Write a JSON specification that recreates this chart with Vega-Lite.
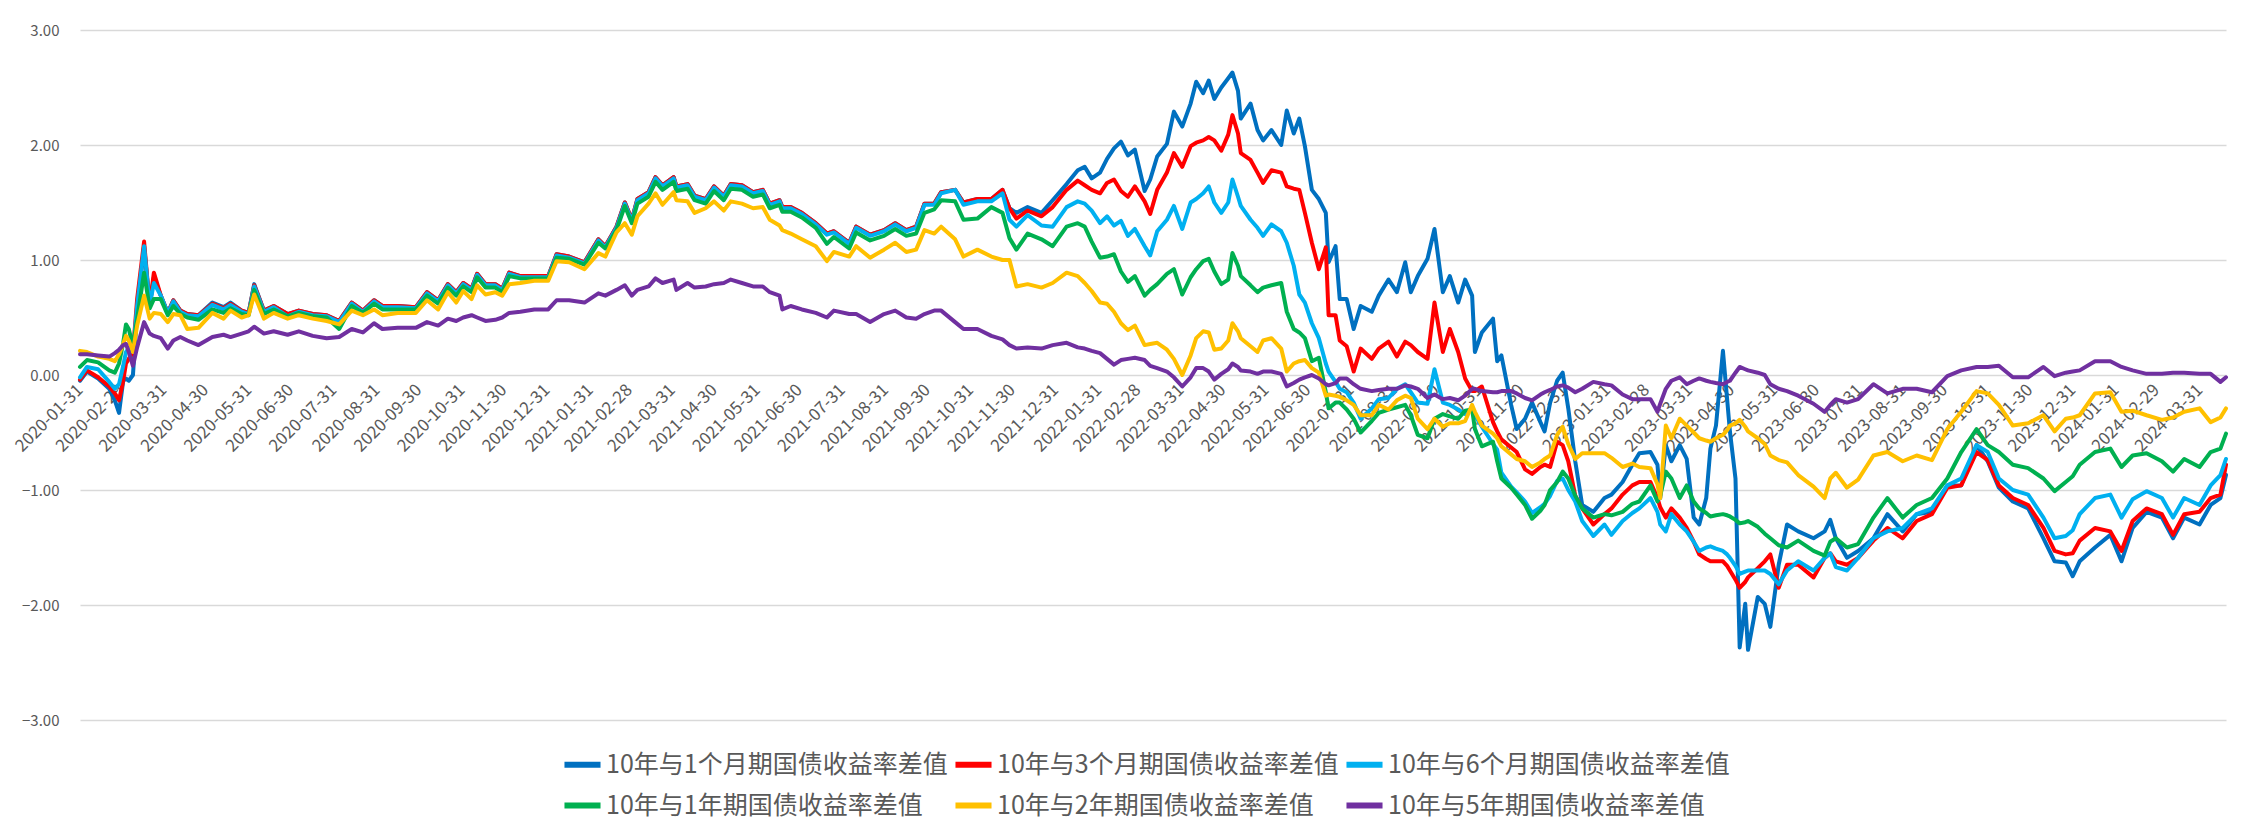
{
  "$schema": "https://vega.github.io/schema/vega-lite/v6.json",
  "width": 2146,
  "height": 690,
  "autosize": {"type": "none"},
  "padding": {"left": 80, "top": 30, "right": 26, "bottom": 105},
  "background": "white",
  "config": {"view": {"stroke": null}, "font": "Noto Sans CJK SC"},
  "datasets": {
    "names": [
      {"k": "a", "name": "10年与1个月期国债收益率差值"},
      {"k": "b", "name": "10年与3个月期国债收益率差值"},
      {"k": "c", "name": "10年与6个月期国债收益率差值"},
      {"k": "e", "name": "10年与1年期国债收益率差值"},
      {"k": "f", "name": "10年与2年期国债收益率差值"},
      {"k": "g", "name": "10年与5年期国债收益率差值"}
    ]
  },
  "data": {"values": [
    {"d":"2020-01-31","a":-0.05,"b":-0.04,"c":-0.02,"e":0.07,"f":0.21,"g":0.18},
    {"d":"2020-02-05","a":0.03,"b":0.04,"c":0.07,"e":0.13,"f":0.20,"g":0.18},
    {"d":"2020-02-13","a":-0.03,"b":-0.02,"c":0.05,"e":0.11,"f":0.16,"g":0.17},
    {"d":"2020-02-21","a":-0.12,"b":-0.10,"c":-0.06,"e":0.04,"f":0.14,"g":0.16},
    {"d":"2020-02-25","a":-0.22,"b":-0.16,"c":-0.12,"e":0.02,"f":0.12,"g":0.19},
    {"d":"2020-02-28","a":-0.33,"b":-0.22,"c":-0.08,"e":0.10,"f":0.18,"g":0.22},
    {"d":"2020-03-02","a":-0.05,"b":-0.05,"c":0.08,"e":0.28,"f":0.27,"g":0.26},
    {"d":"2020-03-04","a":-0.03,"b":0.10,"c":0.20,"e":0.44,"f":0.34,"g":0.27},
    {"d":"2020-03-06","a":-0.05,"b":0.14,"c":0.23,"e":0.40,"f":0.30,"g":0.20},
    {"d":"2020-03-09","a":0.00,"b":0.20,"c":0.20,"e":0.25,"f":0.20,"g":0.08},
    {"d":"2020-03-12","a":0.55,"b":0.66,"c":0.60,"e":0.49,"f":0.43,"g":0.24},
    {"d":"2020-03-17","a":1.12,"b":1.16,"c":1.12,"e":0.89,"f":0.69,"g":0.46},
    {"d":"2020-03-21","a":0.60,"b":0.60,"c":0.60,"e":0.58,"f":0.49,"g":0.36},
    {"d":"2020-03-24","a":0.85,"b":0.89,"c":0.80,"e":0.66,"f":0.54,"g":0.34},
    {"d":"2020-03-29","a":0.69,"b":0.69,"c":0.69,"e":0.66,"f":0.53,"g":0.32},
    {"d":"2020-04-03","a":0.54,"b":0.54,"c":0.54,"e":0.52,"f":0.46,"g":0.23},
    {"d":"2020-04-07","a":0.65,"b":0.65,"c":0.64,"e":0.60,"f":0.53,"g":0.30},
    {"d":"2020-04-12","a":0.56,"b":0.56,"c":0.55,"e":0.53,"f":0.52,"g":0.33},
    {"d":"2020-04-17","a":0.53,"b":0.53,"c":0.52,"e":0.50,"f":0.40,"g":0.30},
    {"d":"2020-04-25","a":0.52,"b":0.52,"c":0.51,"e":0.48,"f":0.41,"g":0.26},
    {"d":"2020-05-05","a":0.63,"b":0.62,"c":0.61,"e":0.57,"f":0.54,"g":0.33},
    {"d":"2020-05-13","a":0.59,"b":0.58,"c":0.57,"e":0.54,"f":0.49,"g":0.35},
    {"d":"2020-05-18","a":0.63,"b":0.62,"c":0.61,"e":0.58,"f":0.56,"g":0.33},
    {"d":"2020-05-26","a":0.56,"b":0.56,"c":0.55,"e":0.53,"f":0.50,"g":0.36},
    {"d":"2020-05-31","a":0.54,"b":0.54,"c":0.53,"e":0.52,"f":0.52,"g":0.38},
    {"d":"2020-06-04","a":0.79,"b":0.78,"c":0.77,"e":0.74,"f":0.70,"g":0.42},
    {"d":"2020-06-11","a":0.56,"b":0.56,"c":0.55,"e":0.53,"f":0.49,"g":0.36},
    {"d":"2020-06-18","a":0.60,"b":0.60,"c":0.59,"e":0.57,"f":0.54,"g":0.38},
    {"d":"2020-06-28","a":0.53,"b":0.53,"c":0.51,"e":0.51,"f":0.49,"g":0.35},
    {"d":"2020-07-06","a":0.56,"b":0.56,"c":0.55,"e":0.54,"f":0.52,"g":0.38},
    {"d":"2020-07-16","a":0.53,"b":0.53,"c":0.52,"e":0.51,"f":0.49,"g":0.34},
    {"d":"2020-07-26","a":0.52,"b":0.52,"c":0.51,"e":0.50,"f":0.47,"g":0.32},
    {"d":"2020-08-04","a":0.47,"b":0.47,"c":0.46,"e":0.40,"f":0.44,"g":0.33},
    {"d":"2020-08-13","a":0.63,"b":0.63,"c":0.62,"e":0.60,"f":0.56,"g":0.40},
    {"d":"2020-08-21","a":0.56,"b":0.56,"c":0.55,"e":0.54,"f":0.52,"g":0.37},
    {"d":"2020-08-29","a":0.65,"b":0.65,"c":0.64,"e":0.62,"f":0.57,"g":0.45},
    {"d":"2020-09-04","a":0.60,"b":0.60,"c":0.59,"e":0.57,"f":0.52,"g":0.40},
    {"d":"2020-09-15","a":0.60,"b":0.60,"c":0.59,"e":0.57,"f":0.54,"g":0.41},
    {"d":"2020-09-28","a":0.59,"b":0.59,"c":0.58,"e":0.57,"f":0.54,"g":0.41},
    {"d":"2020-10-06","a":0.72,"b":0.72,"c":0.71,"e":0.69,"f":0.65,"g":0.46},
    {"d":"2020-10-14","a":0.65,"b":0.65,"c":0.64,"e":0.62,"f":0.57,"g":0.43},
    {"d":"2020-10-21","a":0.79,"b":0.79,"c":0.78,"e":0.76,"f":0.72,"g":0.49},
    {"d":"2020-10-27","a":0.72,"b":0.72,"c":0.71,"e":0.69,"f":0.63,"g":0.47},
    {"d":"2020-11-01","a":0.80,"b":0.80,"c":0.79,"e":0.77,"f":0.73,"g":0.50},
    {"d":"2020-11-07","a":0.75,"b":0.75,"c":0.74,"e":0.72,"f":0.66,"g":0.52},
    {"d":"2020-11-11","a":0.88,"b":0.88,"c":0.87,"e":0.85,"f":0.78,"g":0.50},
    {"d":"2020-11-17","a":0.79,"b":0.79,"c":0.78,"e":0.76,"f":0.70,"g":0.47},
    {"d":"2020-11-24","a":0.79,"b":0.79,"c":0.78,"e":0.76,"f":0.72,"g":0.48},
    {"d":"2020-11-29","a":0.75,"b":0.75,"c":0.74,"e":0.72,"f":0.69,"g":0.50},
    {"d":"2020-12-04","a":0.89,"b":0.89,"c":0.88,"e":0.86,"f":0.79,"g":0.54},
    {"d":"2020-12-12","a":0.86,"b":0.86,"c":0.85,"e":0.84,"f":0.80,"g":0.55},
    {"d":"2020-12-22","a":0.86,"b":0.86,"c":0.85,"e":0.84,"f":0.82,"g":0.57},
    {"d":"2021-01-01","a":0.86,"b":0.86,"c":0.85,"e":0.84,"f":0.82,"g":0.57},
    {"d":"2021-01-07","a":1.05,"b":1.05,"c":1.04,"e":1.02,"f":0.99,"g":0.65},
    {"d":"2021-01-16","a":1.03,"b":1.03,"c":1.02,"e":1.01,"f":0.98,"g":0.65},
    {"d":"2021-01-27","a":0.98,"b":0.98,"c":0.97,"e":0.96,"f":0.92,"g":0.63},
    {"d":"2021-02-06","a":1.18,"b":1.18,"c":1.17,"e":1.15,"f":1.06,"g":0.71},
    {"d":"2021-02-11","a":1.12,"b":1.12,"c":1.11,"e":1.10,"f":1.03,"g":0.69},
    {"d":"2021-02-19","a":1.29,"b":1.29,"c":1.28,"e":1.26,"f":1.24,"g":0.74},
    {"d":"2021-02-25","a":1.50,"b":1.50,"c":1.49,"e":1.47,"f":1.32,"g":0.78},
    {"d":"2021-03-02","a":1.35,"b":1.35,"c":1.34,"e":1.32,"f":1.22,"g":0.69},
    {"d":"2021-03-06","a":1.53,"b":1.53,"c":1.52,"e":1.49,"f":1.38,"g":0.74},
    {"d":"2021-03-14","a":1.59,"b":1.59,"c":1.58,"e":1.55,"f":1.49,"g":0.77},
    {"d":"2021-03-19","a":1.72,"b":1.72,"c":1.71,"e":1.68,"f":1.58,"g":0.84},
    {"d":"2021-03-24","a":1.65,"b":1.65,"c":1.64,"e":1.61,"f":1.48,"g":0.80},
    {"d":"2021-04-01","a":1.72,"b":1.72,"c":1.71,"e":1.68,"f":1.59,"g":0.83},
    {"d":"2021-04-03","a":1.64,"b":1.64,"c":1.63,"e":1.60,"f":1.52,"g":0.74},
    {"d":"2021-04-11","a":1.66,"b":1.66,"c":1.65,"e":1.62,"f":1.51,"g":0.80},
    {"d":"2021-04-16","a":1.56,"b":1.56,"c":1.55,"e":1.52,"f":1.41,"g":0.76},
    {"d":"2021-04-24","a":1.53,"b":1.53,"c":1.52,"e":1.49,"f":1.45,"g":0.77},
    {"d":"2021-04-30","a":1.64,"b":1.64,"c":1.63,"e":1.60,"f":1.51,"g":0.79},
    {"d":"2021-05-07","a":1.56,"b":1.56,"c":1.55,"e":1.52,"f":1.43,"g":0.80},
    {"d":"2021-05-12","a":1.66,"b":1.66,"c":1.65,"e":1.62,"f":1.51,"g":0.83},
    {"d":"2021-05-20","a":1.65,"b":1.65,"c":1.64,"e":1.61,"f":1.49,"g":0.80},
    {"d":"2021-05-28","a":1.59,"b":1.59,"c":1.58,"e":1.55,"f":1.45,"g":0.77},
    {"d":"2021-06-04","a":1.61,"b":1.61,"c":1.60,"e":1.57,"f":1.46,"g":0.77},
    {"d":"2021-06-09","a":1.49,"b":1.49,"c":1.48,"e":1.45,"f":1.35,"g":0.72},
    {"d":"2021-06-16","a":1.52,"b":1.52,"c":1.51,"e":1.48,"f":1.30,"g":0.69},
    {"d":"2021-06-18","a":1.46,"b":1.46,"c":1.45,"e":1.42,"f":1.26,"g":0.57},
    {"d":"2021-06-24","a":1.46,"b":1.46,"c":1.45,"e":1.42,"f":1.23,"g":0.60},
    {"d":"2021-07-02","a":1.41,"b":1.41,"c":1.40,"e":1.37,"f":1.18,"g":0.57},
    {"d":"2021-07-12","a":1.32,"b":1.32,"c":1.31,"e":1.28,"f":1.12,"g":0.54},
    {"d":"2021-07-20","a":1.23,"b":1.23,"c":1.22,"e":1.14,"f":0.99,"g":0.50},
    {"d":"2021-07-25","a":1.25,"b":1.25,"c":1.24,"e":1.20,"f":1.07,"g":0.56},
    {"d":"2021-08-05","a":1.15,"b":1.15,"c":1.14,"e":1.10,"f":1.03,"g":0.53},
    {"d":"2021-08-10","a":1.29,"b":1.29,"c":1.28,"e":1.24,"f":1.12,"g":0.53},
    {"d":"2021-08-20","a":1.22,"b":1.22,"c":1.21,"e":1.17,"f":1.02,"g":0.46},
    {"d":"2021-08-30","a":1.26,"b":1.26,"c":1.25,"e":1.21,"f":1.09,"g":0.53},
    {"d":"2021-09-07","a":1.32,"b":1.32,"c":1.31,"e":1.27,"f":1.15,"g":0.56},
    {"d":"2021-09-15","a":1.26,"b":1.26,"c":1.25,"e":1.21,"f":1.07,"g":0.50},
    {"d":"2021-09-22","a":1.29,"b":1.29,"c":1.28,"e":1.23,"f":1.09,"g":0.49},
    {"d":"2021-09-28","a":1.49,"b":1.49,"c":1.48,"e":1.41,"f":1.26,"g":0.53},
    {"d":"2021-10-05","a":1.49,"b":1.49,"c":1.48,"e":1.44,"f":1.23,"g":0.56},
    {"d":"2021-10-10","a":1.59,"b":1.59,"c":1.58,"e":1.52,"f":1.29,"g":0.56},
    {"d":"2021-10-20","a":1.61,"b":1.61,"c":1.61,"e":1.51,"f":1.18,"g":0.46},
    {"d":"2021-10-26","a":1.50,"b":1.50,"c":1.48,"e":1.35,"f":1.03,"g":0.40},
    {"d":"2021-11-05","a":1.53,"b":1.53,"c":1.51,"e":1.36,"f":1.09,"g":0.40},
    {"d":"2021-11-15","a":1.53,"b":1.53,"c":1.51,"e":1.46,"f":1.03,"g":0.34},
    {"d":"2021-11-23","a":1.61,"b":1.61,"c":1.58,"e":1.41,"f":1.00,"g":0.31},
    {"d":"2021-11-28","a":1.45,"b":1.45,"c":1.35,"e":1.19,"f":1.00,"g":0.26},
    {"d":"2021-12-03","a":1.41,"b":1.36,"c":1.29,"e":1.09,"f":0.77,"g":0.23},
    {"d":"2021-12-11","a":1.46,"b":1.43,"c":1.39,"e":1.23,"f":0.79,"g":0.24},
    {"d":"2021-12-21","a":1.41,"b":1.38,"c":1.30,"e":1.18,"f":0.76,"g":0.23},
    {"d":"2021-12-29","a":1.52,"b":1.46,"c":1.29,"e":1.12,"f":0.80,"g":0.26},
    {"d":"2022-01-08","a":1.66,"b":1.61,"c":1.46,"e":1.29,"f":0.89,"g":0.28},
    {"d":"2022-01-16","a":1.78,"b":1.69,"c":1.51,"e":1.32,"f":0.86,"g":0.24},
    {"d":"2022-01-21","a":1.81,"b":1.65,"c":1.49,"e":1.29,"f":0.80,"g":0.23},
    {"d":"2022-01-26","a":1.71,"b":1.61,"c":1.43,"e":1.16,"f":0.73,"g":0.21},
    {"d":"2022-02-01","a":1.76,"b":1.58,"c":1.32,"e":1.02,"f":0.63,"g":0.19},
    {"d":"2022-02-06","a":1.88,"b":1.67,"c":1.38,"e":1.03,"f":0.62,"g":0.14},
    {"d":"2022-02-11","a":1.97,"b":1.70,"c":1.30,"e":1.05,"f":0.55,"g":0.09},
    {"d":"2022-02-16","a":2.03,"b":1.60,"c":1.34,"e":0.90,"f":0.45,"g":0.13},
    {"d":"2022-02-21","a":1.91,"b":1.55,"c":1.21,"e":0.81,"f":0.39,"g":0.14},
    {"d":"2022-02-26","a":1.96,"b":1.64,"c":1.27,"e":0.86,"f":0.43,"g":0.15},
    {"d":"2022-03-05","a":1.60,"b":1.51,"c":1.12,"e":0.69,"f":0.26,"g":0.13},
    {"d":"2022-03-09","a":1.70,"b":1.40,"c":1.04,"e":0.74,"f":0.27,"g":0.08},
    {"d":"2022-03-14","a":1.90,"b":1.61,"c":1.25,"e":0.79,"f":0.28,"g":0.06},
    {"d":"2022-03-21","a":2.01,"b":1.76,"c":1.35,"e":0.88,"f":0.22,"g":0.03},
    {"d":"2022-03-26","a":2.29,"b":1.93,"c":1.47,"e":0.92,"f":0.14,"g":-0.02},
    {"d":"2022-04-01","a":2.16,"b":1.81,"c":1.27,"e":0.70,"f":0.00,"g":-0.10},
    {"d":"2022-04-07","a":2.36,"b":1.99,"c":1.50,"e":0.85,"f":0.17,"g":-0.02},
    {"d":"2022-04-11","a":2.55,"b":2.02,"c":1.53,"e":0.92,"f":0.32,"g":0.06},
    {"d":"2022-04-16","a":2.45,"b":2.04,"c":1.58,"e":0.99,"f":0.38,"g":0.06},
    {"d":"2022-04-20","a":2.56,"b":2.07,"c":1.64,"e":1.01,"f":0.37,"g":0.03},
    {"d":"2022-04-24","a":2.40,"b":2.04,"c":1.50,"e":0.90,"f":0.22,"g":-0.04},
    {"d":"2022-04-29","a":2.50,"b":1.95,"c":1.41,"e":0.79,"f":0.23,"g":0.01},
    {"d":"2022-05-04","a":2.58,"b":2.09,"c":1.50,"e":0.83,"f":0.30,"g":0.05},
    {"d":"2022-05-07","a":2.63,"b":2.26,"c":1.70,"e":1.06,"f":0.45,"g":0.10},
    {"d":"2022-05-11","a":2.47,"b":2.10,"c":1.55,"e":0.95,"f":0.38,"g":0.07},
    {"d":"2022-05-13","a":2.23,"b":1.93,"c":1.47,"e":0.86,"f":0.32,"g":0.04},
    {"d":"2022-05-20","a":2.36,"b":1.87,"c":1.35,"e":0.78,"f":0.25,"g":0.03},
    {"d":"2022-05-25","a":2.13,"b":1.76,"c":1.28,"e":0.72,"f":0.20,"g":0.01},
    {"d":"2022-05-29","a":2.04,"b":1.67,"c":1.21,"e":0.76,"f":0.30,"g":0.03},
    {"d":"2022-06-04","a":2.13,"b":1.78,"c":1.31,"e":0.78,"f":0.32,"g":0.03},
    {"d":"2022-06-11","a":2.00,"b":1.76,"c":1.25,"e":0.80,"f":0.23,"g":0.01},
    {"d":"2022-06-15","a":2.30,"b":1.64,"c":1.15,"e":0.55,"f":0.03,"g":-0.10},
    {"d":"2022-06-20","a":2.10,"b":1.62,"c":0.95,"e":0.40,"f":0.10,"g":-0.07},
    {"d":"2022-06-24","a":2.23,"b":1.61,"c":0.70,"e":0.37,"f":0.12,"g":-0.04},
    {"d":"2022-06-28","a":1.99,"b":1.41,"c":0.63,"e":0.32,"f":0.13,"g":-0.02},
    {"d":"2022-07-03","a":1.61,"b":1.15,"c":0.45,"e":0.12,"f":0.06,"g":0.00},
    {"d":"2022-07-08","a":1.53,"b":0.92,"c":0.32,"e":0.15,"f":0.02,"g":-0.03},
    {"d":"2022-07-13","a":1.41,"b":1.11,"c":0.10,"e":-0.15,"f":-0.18,"g":-0.08},
    {"d":"2022-07-15","a":0.98,"b":0.52,"c":0.03,"e":-0.29,"f":-0.17,"g":-0.09},
    {"d":"2022-07-20","a":1.12,"b":0.52,"c":-0.06,"e":-0.24,"f":-0.18,"g":-0.07},
    {"d":"2022-07-23","a":0.66,"b":0.30,"c":-0.12,"e":-0.24,"f":-0.19,"g":-0.03},
    {"d":"2022-07-28","a":0.66,"b":0.25,"c":-0.15,"e":-0.30,"f":-0.22,"g":-0.03},
    {"d":"2022-08-02","a":0.40,"b":0.03,"c":-0.24,"e":-0.38,"f":-0.26,"g":-0.08},
    {"d":"2022-08-07","a":0.60,"b":0.23,"c":-0.38,"e":-0.50,"f":-0.35,"g":-0.12},
    {"d":"2022-08-15","a":0.55,"b":0.14,"c":-0.29,"e":-0.40,"f":-0.35,"g":-0.14},
    {"d":"2022-08-20","a":0.69,"b":0.23,"c":-0.21,"e":-0.33,"f":-0.26,"g":-0.13},
    {"d":"2022-08-27","a":0.83,"b":0.29,"c":-0.20,"e":-0.30,"f":-0.30,"g":-0.12},
    {"d":"2022-09-02","a":0.72,"b":0.16,"c":-0.12,"e":-0.28,"f":-0.22,"g":-0.12},
    {"d":"2022-09-08","a":0.98,"b":0.29,"c":-0.08,"e":-0.26,"f":-0.18,"g":-0.09},
    {"d":"2022-09-12","a":0.72,"b":0.26,"c":-0.15,"e":-0.35,"f":-0.20,"g":-0.10},
    {"d":"2022-09-17","a":0.86,"b":0.20,"c":-0.24,"e":-0.52,"f":-0.38,"g":-0.12},
    {"d":"2022-09-24","a":1.01,"b":0.14,"c":-0.25,"e":-0.55,"f":-0.47,"g":-0.20},
    {"d":"2022-09-29","a":1.27,"b":0.63,"c":0.05,"e":-0.38,"f":-0.38,"g":-0.17},
    {"d":"2022-10-05","a":0.72,"b":0.20,"c":-0.24,"e":-0.34,"f":-0.45,"g":-0.21},
    {"d":"2022-10-10","a":0.86,"b":0.40,"c":-0.26,"e":-0.36,"f":-0.42,"g":-0.20},
    {"d":"2022-10-16","a":0.63,"b":0.20,"c":-0.30,"e":-0.38,"f":-0.42,"g":-0.22},
    {"d":"2022-10-21","a":0.83,"b":-0.03,"c":-0.34,"e":-0.31,"f":-0.40,"g":-0.18},
    {"d":"2022-10-26","a":0.69,"b":-0.14,"c":-0.28,"e":-0.30,"f":-0.26,"g":-0.12},
    {"d":"2022-10-28","a":0.20,"b":-0.14,"c":-0.35,"e":-0.47,"f":-0.32,"g":-0.12},
    {"d":"2022-11-02","a":0.37,"b":-0.10,"c":-0.45,"e":-0.62,"f":-0.44,"g":-0.14},
    {"d":"2022-11-10","a":0.49,"b":-0.41,"c":-0.60,"e":-0.58,"f":-0.51,"g":-0.15},
    {"d":"2022-11-13","a":0.12,"b":-0.49,"c":-0.65,"e":-0.75,"f":-0.55,"g":-0.15},
    {"d":"2022-11-16","a":0.17,"b":-0.56,"c":-0.85,"e":-0.90,"f":-0.62,"g":-0.14},
    {"d":"2022-11-23","a":-0.26,"b":-0.63,"c":-0.97,"e":-0.98,"f":-0.69,"g":-0.14},
    {"d":"2022-11-27","a":-0.47,"b":-0.67,"c":-1.02,"e":-1.04,"f":-0.73,"g":-0.16},
    {"d":"2022-12-03","a":-0.38,"b":-0.82,"c":-1.10,"e":-1.13,"f":-0.75,"g":-0.20},
    {"d":"2022-12-08","a":-0.24,"b":-0.86,"c":-1.20,"e":-1.25,"f":-0.80,"g":-0.22},
    {"d":"2022-12-14","a":-0.41,"b":-0.80,"c":-1.15,"e":-1.18,"f":-0.76,"g":-0.17},
    {"d":"2022-12-17","a":-0.49,"b":-0.78,"c":-1.12,"e":-1.13,"f":-0.73,"g":-0.15},
    {"d":"2022-12-21","a":-0.24,"b":-0.80,"c":-1.05,"e":-1.00,"f":-0.70,"g":-0.13},
    {"d":"2022-12-26","a":-0.05,"b":-0.58,"c":-0.92,"e":-0.93,"f":-0.52,"g":-0.10},
    {"d":"2022-12-30","a":0.02,"b":-0.61,"c":-0.90,"e":-0.84,"f":-0.45,"g":-0.09},
    {"d":"2023-01-03","a":-0.29,"b":-0.75,"c":-1.00,"e":-0.90,"f":-0.60,"g":-0.11},
    {"d":"2023-01-08","a":-0.75,"b":-1.05,"c":-1.10,"e":-1.05,"f":-0.73,"g":-0.15},
    {"d":"2023-01-13","a":-1.13,"b":-1.16,"c":-1.27,"e":-1.16,"f":-0.68,"g":-0.12},
    {"d":"2023-01-21","a":-1.19,"b":-1.30,"c":-1.40,"e":-1.24,"f":-0.68,"g":-0.06},
    {"d":"2023-01-29","a":-1.07,"b":-1.21,"c":-1.30,"e":-1.21,"f":-0.68,"g":-0.08},
    {"d":"2023-02-03","a":-1.04,"b":-1.16,"c":-1.39,"e":-1.22,"f":-0.72,"g":-0.09},
    {"d":"2023-02-11","a":-0.93,"b":-1.04,"c":-1.27,"e":-1.19,"f":-0.80,"g":-0.17},
    {"d":"2023-02-18","a":-0.78,"b":-0.96,"c":-1.20,"e":-1.12,"f":-0.77,"g":-0.21},
    {"d":"2023-02-23","a":-0.68,"b":-0.93,"c":-1.16,"e":-1.10,"f":-0.80,"g":-0.21},
    {"d":"2023-03-03","a":-0.67,"b":-0.93,"c":-1.07,"e":-0.96,"f":-0.81,"g":-0.21},
    {"d":"2023-03-08","a":-0.78,"b":-1.07,"c":-1.19,"e":-1.10,"f":-0.95,"g":-0.32},
    {"d":"2023-03-10","a":-1.07,"b":-1.15,"c":-1.30,"e":-1.05,"f":-1.07,"g":-0.25},
    {"d":"2023-03-14","a":-0.61,"b":-1.24,"c":-1.36,"e":-0.84,"f":-0.44,"g":-0.12},
    {"d":"2023-03-18","a":-0.75,"b":-1.16,"c":-1.21,"e":-0.90,"f":-0.55,"g":-0.05},
    {"d":"2023-03-24","a":-0.61,"b":-1.24,"c":-1.30,"e":-1.07,"f":-0.38,"g":-0.02},
    {"d":"2023-03-29","a":-0.73,"b":-1.33,"c":-1.36,"e":-0.96,"f":-0.44,"g":-0.08},
    {"d":"2023-04-03","a":-1.24,"b":-1.45,"c":-1.45,"e":-1.10,"f":-0.50,"g":-0.05},
    {"d":"2023-04-07","a":-1.30,"b":-1.56,"c":-1.53,"e":-1.16,"f":-0.55,"g":-0.03},
    {"d":"2023-04-12","a":-1.07,"b":-1.60,"c":-1.50,"e":-1.20,"f":-0.57,"g":-0.05},
    {"d":"2023-04-15","a":-0.64,"b":-1.62,"c":-1.49,"e":-1.23,"f":-0.58,"g":-0.06},
    {"d":"2023-04-19","a":-0.44,"b":-1.62,"c":-1.51,"e":-1.22,"f":-0.55,"g":-0.07},
    {"d":"2023-04-24","a":0.21,"b":-1.62,"c":-1.53,"e":-1.21,"f":-0.52,"g":-0.08},
    {"d":"2023-04-27","a":-0.21,"b":-1.66,"c":-1.56,"e":-1.22,"f":-0.48,"g":-0.06},
    {"d":"2023-04-29","a":-0.49,"b":-1.70,"c":-1.59,"e":-1.23,"f":-0.44,"g":-0.05},
    {"d":"2023-05-03","a":-0.90,"b":-1.78,"c":-1.66,"e":-1.26,"f":-0.42,"g":0.02},
    {"d":"2023-05-06","a":-2.37,"b":-1.85,"c":-1.73,"e":-1.29,"f":-0.39,"g":0.07},
    {"d":"2023-05-10","a":-1.99,"b":-1.80,"c":-1.71,"e":-1.28,"f":-0.45,"g":0.05},
    {"d":"2023-05-12","a":-2.39,"b":-1.76,"c":-1.70,"e":-1.27,"f":-0.49,"g":0.04},
    {"d":"2023-05-19","a":-1.93,"b":-1.68,"c":-1.70,"e":-1.32,"f":-0.55,"g":0.02},
    {"d":"2023-05-24","a":-1.99,"b":-1.62,"c":-1.70,"e":-1.38,"f":-0.60,"g":0.00},
    {"d":"2023-05-28","a":-2.19,"b":-1.56,"c":-1.73,"e":-1.42,"f":-0.70,"g":-0.08},
    {"d":"2023-06-03","a":-1.65,"b":-1.85,"c":-1.82,"e":-1.48,"f":-0.74,"g":-0.12},
    {"d":"2023-06-09","a":-1.30,"b":-1.65,"c":-1.70,"e":-1.50,"f":-0.76,"g":-0.14},
    {"d":"2023-06-17","a":-1.36,"b":-1.65,"c":-1.62,"e":-1.44,"f":-0.87,"g":-0.18},
    {"d":"2023-06-28","a":-1.42,"b":-1.76,"c":-1.70,"e":-1.53,"f":-0.97,"g":-0.25},
    {"d":"2023-07-06","a":-1.36,"b":-1.59,"c":-1.59,"e":-1.57,"f":-1.07,"g":-0.32},
    {"d":"2023-07-10","a":-1.26,"b":-1.55,"c":-1.55,"e":-1.45,"f":-0.90,"g":-0.26},
    {"d":"2023-07-14","a":-1.42,"b":-1.62,"c":-1.67,"e":-1.42,"f":-0.85,"g":-0.21},
    {"d":"2023-07-22","a":-1.59,"b":-1.65,"c":-1.70,"e":-1.50,"f":-0.98,"g":-0.24},
    {"d":"2023-07-30","a":-1.53,"b":-1.59,"c":-1.59,"e":-1.47,"f":-0.91,"g":-0.21},
    {"d":"2023-08-10","a":-1.42,"b":-1.44,"c":-1.42,"e":-1.24,"f":-0.70,"g":-0.08},
    {"d":"2023-08-20","a":-1.21,"b":-1.33,"c":-1.36,"e":-1.07,"f":-0.67,"g":-0.16},
    {"d":"2023-08-31","a":-1.36,"b":-1.42,"c":-1.33,"e":-1.24,"f":-0.75,"g":-0.12},
    {"d":"2023-09-10","a":-1.21,"b":-1.27,"c":-1.21,"e":-1.13,"f":-0.70,"g":-0.12},
    {"d":"2023-09-21","a":-1.19,"b":-1.21,"c":-1.16,"e":-1.07,"f":-0.74,"g":-0.15},
    {"d":"2023-10-02","a":-0.96,"b":-0.98,"c":-0.96,"e":-0.90,"f":-0.47,"g":-0.01},
    {"d":"2023-10-12","a":-0.96,"b":-0.96,"c":-0.90,"e":-0.67,"f":-0.32,"g":0.04},
    {"d":"2023-10-23","a":-0.61,"b":-0.67,"c":-0.61,"e":-0.47,"f":-0.14,"g":0.07},
    {"d":"2023-10-31","a":-0.75,"b":-0.74,"c":-0.67,"e":-0.61,"f":-0.16,"g":0.07},
    {"d":"2023-11-08","a":-0.98,"b":-0.96,"c":-0.90,"e":-0.67,"f":-0.26,"g":0.08},
    {"d":"2023-11-18","a":-1.10,"b":-1.07,"c":-1.00,"e":-0.78,"f":-0.44,"g":-0.02},
    {"d":"2023-11-29","a":-1.16,"b":-1.13,"c":-1.04,"e":-0.81,"f":-0.42,"g":-0.02},
    {"d":"2023-12-10","a":-1.42,"b":-1.33,"c":-1.24,"e":-0.90,"f":-0.35,"g":0.07},
    {"d":"2023-12-18","a":-1.62,"b":-1.53,"c":-1.42,"e":-1.01,"f":-0.49,"g":-0.01},
    {"d":"2023-12-26","a":-1.63,"b":-1.56,"c":-1.40,"e":-0.93,"f":-0.38,"g":0.02},
    {"d":"2023-12-31","a":-1.75,"b":-1.55,"c":-1.35,"e":-0.88,"f":-0.37,"g":0.03},
    {"d":"2024-01-05","a":-1.62,"b":-1.44,"c":-1.21,"e":-0.78,"f":-0.35,"g":0.04},
    {"d":"2024-01-16","a":-1.50,"b":-1.33,"c":-1.07,"e":-0.67,"f":-0.16,"g":0.12},
    {"d":"2024-01-27","a":-1.39,"b":-1.36,"c":-1.04,"e":-0.64,"f":-0.15,"g":0.12},
    {"d":"2024-02-04","a":-1.62,"b":-1.53,"c":-1.24,"e":-0.80,"f":-0.32,"g":0.07},
    {"d":"2024-02-12","a":-1.33,"b":-1.27,"c":-1.08,"e":-0.70,"f":-0.31,"g":0.04},
    {"d":"2024-02-22","a":-1.19,"b":-1.16,"c":-1.01,"e":-0.68,"f":-0.35,"g":0.01},
    {"d":"2024-03-04","a":-1.24,"b":-1.21,"c":-1.07,"e":-0.75,"f":-0.39,"g":0.01},
    {"d":"2024-03-12","a":-1.42,"b":-1.39,"c":-1.24,"e":-0.84,"f":-0.37,"g":0.02},
    {"d":"2024-03-20","a":-1.24,"b":-1.21,"c":-1.07,"e":-0.73,"f":-0.32,"g":0.02},
    {"d":"2024-03-31","a":-1.30,"b":-1.19,"c":-1.13,"e":-0.80,"f":-0.29,"g":0.01},
    {"d":"2024-04-08","a":-1.13,"b":-1.07,"c":-0.96,"e":-0.67,"f":-0.41,"g":0.01},
    {"d":"2024-04-15","a":-1.07,"b":-1.04,"c":-0.87,"e":-0.64,"f":-0.37,"g":-0.06},
    {"d":"2024-04-19","a":-0.87,"b":-0.78,"c":-0.73,"e":-0.51,"f":-0.29,"g":-0.02}
  ]},
  "transform": [
    {"fold": ["a", "b", "c", "e", "f", "g"], "as": ["k", "v"]},
    {"lookup": "k", "from": {"data": {"name": "names"}, "key": "k", "fields": ["name"]}}
  ],
  "mark": {"type": "line", "strokeWidth": 4, "strokeJoin": "round", "strokeCap": "round"},
  "encoding": {
    "x": {
      "field": "d",
      "type": "temporal",
      "scale": {"type": "utc", "domain": [{"year": 2020, "month": 1, "date": 31, "utc": true}, {"year": 2024, "month": 4, "date": 19, "utc": true}]},
      "axis": {
        "title": null,
        "format": "%Y-%m-%d",
        "labelAngle": -45,
        "labelAlign": "right",
        "labelBaseline": "middle",
        "labelOverlap": false,
        "labelFlush": false,
        "labelBound": false,
        "labelFontSize": 17,
        "labelColor": "#595959",
        "labelPadding": 12,
        "ticks": false,
        "tickSize": 0,
        "domain": false,
        "grid": false,
        "offset": -345,
        "values": [
          {"year": 2020, "month": 1, "date": 31, "utc": true},
          {"year": 2020, "month": 2, "date": 29, "utc": true},
          {"year": 2020, "month": 3, "date": 31, "utc": true},
          {"year": 2020, "month": 4, "date": 30, "utc": true},
          {"year": 2020, "month": 5, "date": 31, "utc": true},
          {"year": 2020, "month": 6, "date": 30, "utc": true},
          {"year": 2020, "month": 7, "date": 31, "utc": true},
          {"year": 2020, "month": 8, "date": 31, "utc": true},
          {"year": 2020, "month": 9, "date": 30, "utc": true},
          {"year": 2020, "month": 10, "date": 31, "utc": true},
          {"year": 2020, "month": 11, "date": 30, "utc": true},
          {"year": 2020, "month": 12, "date": 31, "utc": true},
          {"year": 2021, "month": 1, "date": 31, "utc": true},
          {"year": 2021, "month": 2, "date": 28, "utc": true},
          {"year": 2021, "month": 3, "date": 31, "utc": true},
          {"year": 2021, "month": 4, "date": 30, "utc": true},
          {"year": 2021, "month": 5, "date": 31, "utc": true},
          {"year": 2021, "month": 6, "date": 30, "utc": true},
          {"year": 2021, "month": 7, "date": 31, "utc": true},
          {"year": 2021, "month": 8, "date": 31, "utc": true},
          {"year": 2021, "month": 9, "date": 30, "utc": true},
          {"year": 2021, "month": 10, "date": 31, "utc": true},
          {"year": 2021, "month": 11, "date": 30, "utc": true},
          {"year": 2021, "month": 12, "date": 31, "utc": true},
          {"year": 2022, "month": 1, "date": 31, "utc": true},
          {"year": 2022, "month": 2, "date": 28, "utc": true},
          {"year": 2022, "month": 3, "date": 31, "utc": true},
          {"year": 2022, "month": 4, "date": 30, "utc": true},
          {"year": 2022, "month": 5, "date": 31, "utc": true},
          {"year": 2022, "month": 6, "date": 30, "utc": true},
          {"year": 2022, "month": 7, "date": 31, "utc": true},
          {"year": 2022, "month": 8, "date": 31, "utc": true},
          {"year": 2022, "month": 9, "date": 30, "utc": true},
          {"year": 2022, "month": 10, "date": 31, "utc": true},
          {"year": 2022, "month": 11, "date": 30, "utc": true},
          {"year": 2022, "month": 12, "date": 31, "utc": true},
          {"year": 2023, "month": 1, "date": 31, "utc": true},
          {"year": 2023, "month": 2, "date": 28, "utc": true},
          {"year": 2023, "month": 3, "date": 31, "utc": true},
          {"year": 2023, "month": 4, "date": 30, "utc": true},
          {"year": 2023, "month": 5, "date": 31, "utc": true},
          {"year": 2023, "month": 6, "date": 30, "utc": true},
          {"year": 2023, "month": 7, "date": 31, "utc": true},
          {"year": 2023, "month": 8, "date": 31, "utc": true},
          {"year": 2023, "month": 9, "date": 30, "utc": true},
          {"year": 2023, "month": 10, "date": 31, "utc": true},
          {"year": 2023, "month": 11, "date": 30, "utc": true},
          {"year": 2023, "month": 12, "date": 31, "utc": true},
          {"year": 2024, "month": 1, "date": 31, "utc": true},
          {"year": 2024, "month": 2, "date": 29, "utc": true},
          {"year": 2024, "month": 3, "date": 31, "utc": true}
        ]
      }
    },
    "y": {
      "field": "v",
      "type": "quantitative",
      "scale": {"domain": [-3, 3], "nice": false, "zero": false},
      "axis": {
        "title": null,
        "values": [-3, -2, -1, 0, 1, 2, 3],
        "format": ".2f",
        "grid": true,
        "gridColor": "#d9d9d9",
        "gridWidth": 1.5,
        "domain": false,
        "ticks": false,
        "tickSize": 0,
        "labelFontSize": 15,
        "labelColor": "#595959",
        "labelPadding": 21
      }
    },
    "color": {
      "field": "name",
      "type": "nominal",
      "scale": {
        "domain": ["10年与1个月期国债收益率差值", "10年与3个月期国债收益率差值", "10年与6个月期国债收益率差值", "10年与1年期国债收益率差值", "10年与2年期国债收益率差值", "10年与5年期国债收益率差值"],
        "range": ["#0070C0", "#FF0000", "#00B0F0", "#00B050", "#FFC000", "#7030A0"]
      },
      "legend": {
        "title": null,
        "orient": "none",
        "legendX": 481,
        "legendY": 713,
        "direction": "horizontal",
        "columns": 3,
        "symbolType": "stroke",
        "symbolStrokeWidth": 6,
        "symbolSize": 1300,
        "labelFontSize": 25,
        "labelColor": "#595959",
        "labelLimit": 0,
        "labelOffset": 2,
        "columnPadding": -5,
        "rowPadding": 6,
        "padding": 0
      }
    }
  }
}
